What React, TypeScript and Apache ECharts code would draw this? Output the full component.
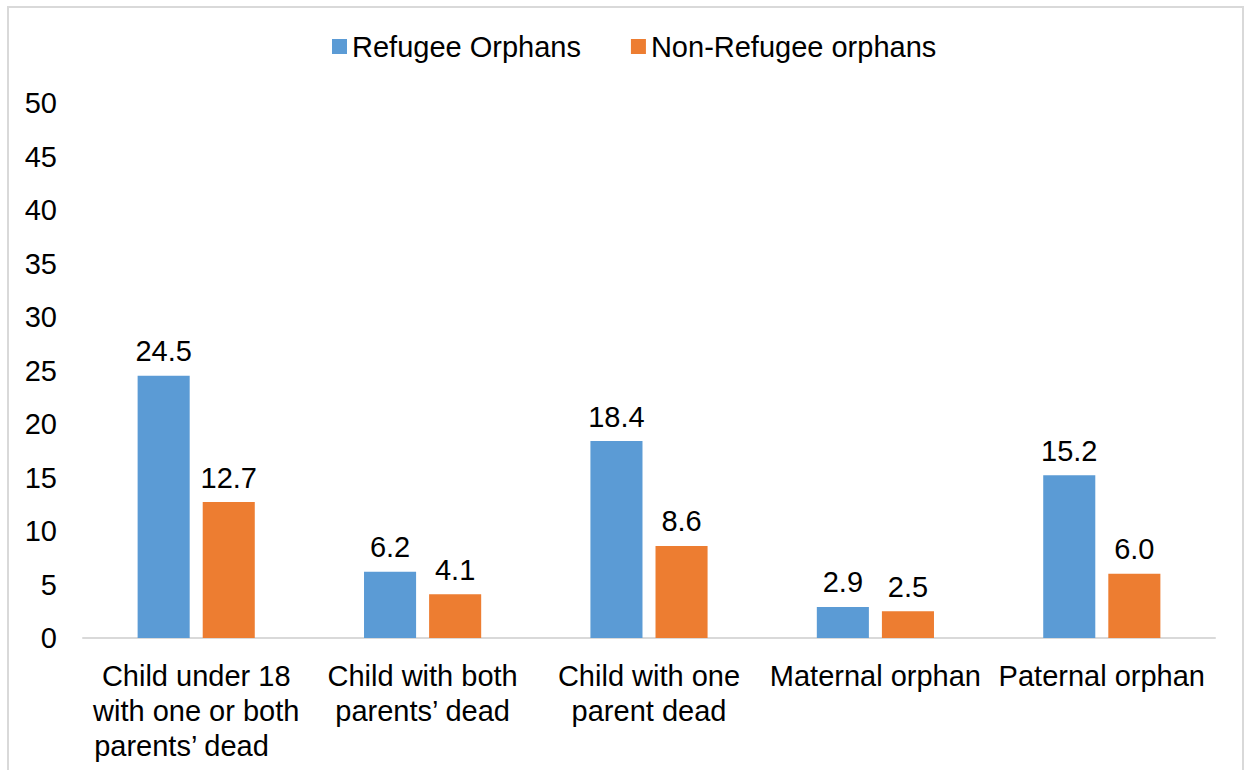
import React, { useEffect, useRef } from "react";
import * as echarts from "echarts";

const categories = [
  "Child under 18\nwith one or both\nparents’ dead",
  "Child with both\nparents’ dead",
  "Child with one\nparent dead",
  "Maternal orphan",
  "Paternal orphan",
];
const refugee = [24.5, 6.2, 18.4, 2.9, 15.2];
const nonRefugee = [12.7, 4.1, 8.6, 2.5, 6.0];
const seriesNames = ["Refugee Orphans", "Non-Refugee orphans"];

const FONT = "'Liberation Sans', Arial, sans-serif";
const FS = 29;

export default function App() {
  const ref = useRef<HTMLDivElement>(null);
  useEffect(() => {
    document.body.style.margin = "0";
    const chart = echarts.init(ref.current!, null, { renderer: "svg" });
    const label = {
      show: true,
      position: "top",
      distance: 10,
      color: "#000",
      fontSize: FS,
      fontFamily: FONT,
      formatter: (p: any) => Number(p.value).toFixed(1),
    };
    const lineStyle = { fontSize: FS, fontFamily: FONT, color: "#000", lineHeight: 35, width: 204 };
    chart.setOption({
      animation: false,
      backgroundColor: "#fff",
      textStyle: { fontFamily: FONT },
      graphic: [
        {
          type: "rect",
          shape: { x: 8, y: 7, width: 1235, height: 800 },
          style: { fill: "none", stroke: "#d9d9d9", lineWidth: 2 },
          silent: true,
        },
      ],
      legend: {
        data: seriesNames,
        top: 27,
        left: 327,
        icon: "rect",
        itemWidth: 15,
        itemHeight: 15,
        itemGap: 50,
        textStyle: { fontSize: FS, color: "#000", fontFamily: FONT },
      },
      grid: { left: 83, right: 29, top: 103, bottom: 132 },
      xAxis: {
        type: "category",
        data: categories,
        axisLine: { show: true, lineStyle: { color: "#d9d9d9", width: 2 } },
        axisTick: { show: false },
        axisLabel: {
          interval: 0,
          margin: 20,
          color: "#000",
          fontSize: FS,
          lineHeight: 35,
          fontFamily: FONT,
          formatter: (v: string, i: number) => {
            if (i !== 0) return v;
            const lines = v.split("\n");
            return lines
              .map((l, k) => (k === lines.length - 1 ? `{l|${l}}` : `{c|${l}}`))
              .join("\n");
          },
          rich: {
            c: { ...lineStyle, align: "center" },
            l: { ...lineStyle, align: "left" },
          },
        },
      },
      yAxis: {
        type: "value",
        min: 0,
        max: 50,
        interval: 5,
        splitLine: { show: false },
        axisLine: { show: false },
        axisTick: { show: false },
        axisLabel: { margin: 26, color: "#000", fontSize: FS, fontFamily: FONT },
      },
      series: [
        {
          name: seriesNames[0],
          type: "bar",
          data: refugee,
          barWidth: "23%",
          barGap: "25%",
          itemStyle: { color: "#5b9bd5" },
          label,
        },
        {
          name: seriesNames[1],
          type: "bar",
          data: nonRefugee,
          barWidth: "23%",
          itemStyle: { color: "#ed7d31" },
          label,
        },
      ],
    });
    return () => chart.dispose();
  }, []);
  return <div ref={ref} style={{ width: 1244, height: 770 }} />;
}
